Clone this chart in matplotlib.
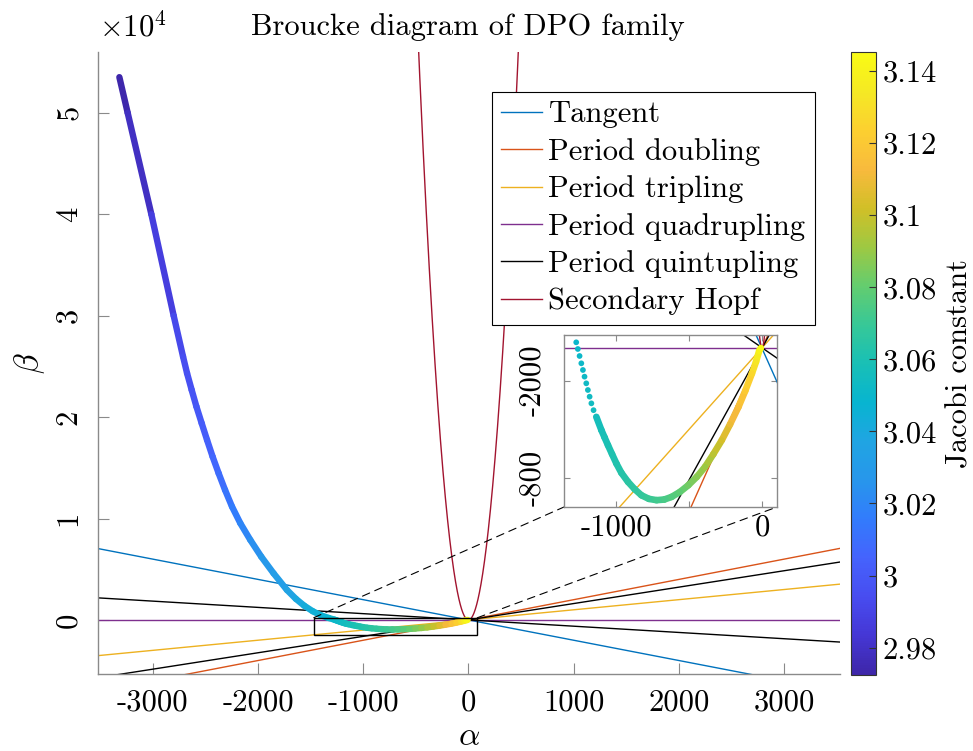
import numpy as np
import matplotlib
matplotlib.use('Agg')
import matplotlib.pyplot as plt
from matplotlib.collections import LineCollection
from matplotlib.colors import LinearSegmentedColormap, Normalize
from matplotlib.patches import Rectangle, ConnectionPatch
from matplotlib.lines import Line2D

plt.rcParams['font.family'] = 'serif'
plt.rcParams['font.serif'] = ['cmr10', 'DejaVu Serif']
plt.rcParams['mathtext.fontset'] = 'cm'
plt.rcParams['axes.unicode_minus'] = False
plt.rcParams['axes.formatter.use_mathtext'] = True

# ---------------- data ----------------
family_alpha = [-3317, -3238, -3013, -2801, -2712, -2674, -2630, -2585, -2535, -2484,
                -2431, -2374, -2313, -2247, -2168, -2073, -1969, -1852, -1725, -1640,
                -1560, -1480, -1400, -1330,
                -1276, -1265, -1253, -1241, -1230, -1219, -1207, -1196, -1184, -1172,
                -1157, -1138, -1103, -1081, -1058, -1030, -1000, -966, -920, -874,
                -828, -777, -724, -671, -621, -563, -506, -448, -391, -334,
                -276, -219, -161, -115, -69, -41, -19, -8]
family_beta = [53520, 50000, 40000, 30000, 25970, 24330, 22680, 21040, 19400, 17750,
               16100, 14470, 12820, 11180, 9540, 7890, 6240, 4600, 2960, 2080,
               1400, 860, 450, 200,
               35, -6, -49, -94, -135, -176, -217, -258, -299, -340,
               -382, -423, -505, -550, -597, -652, -710, -767, -823, -868,
               -905, -927, -935, -931, -915, -884, -843, -792, -730, -652,
               -566, -468, -361, -263, -156, -84, -16, 0]
jacobi = [2.9724, 2.975, 2.983, 2.991, 2.9935, 2.995, 2.997, 2.999, 3.001, 3.003,
          3.005, 3.008, 3.011, 3.014, 3.018, 3.022, 3.026, 3.030, 3.035, 3.038,
          3.041, 3.044, 3.046, 3.048,
          3.050, 3.0505, 3.051, 3.0515, 3.052, 3.0525, 3.053, 3.0535, 3.054, 3.0545,
          3.055, 3.056, 3.058, 3.059, 3.060, 3.061, 3.062, 3.0635, 3.065, 3.0665,
          3.068, 3.070, 3.072, 3.074, 3.076, 3.079, 3.083, 3.087, 3.091, 3.097,
          3.103, 3.109, 3.115, 3.120, 3.127, 3.133, 3.140, 3.1453]

line_names = ['Tangent', 'Period doubling', 'Period tripling', 'Period quadrupling',
              'Period quintupling', 'Secondary Hopf']
# straight Broucke lines: beta = slope*alpha + intercept
line_slopes = [[-2.0], [2.0], [1.0], [0.0], [-0.618, 1.618]]
line_intercepts = [[-2.0], [-2.0], [1.0], [2.0], [1.618, -0.618]]
hopf_coef = (0.25, 2.0)   # beta = 0.25*alpha^2 + 2

xticks_main = [-3000, -2000, -1000, 0, 1000, 2000, 3000]
yticks_main = [0, 10000, 20000, 30000, 40000, 50000]
yticklabels_main = ['0', '1', '2', '3', '4', '5']
cbar_ticks = [2.98, 3.0, 3.02, 3.04, 3.06, 3.08, 3.10, 3.12, 3.14]
cbar_ticklabels = ['2.98', '3', '3.02', '3.04', '3.06', '3.08', '3.1', '3.12', '3.14']
inset_xticks = [-1000, -500, 0]
inset_xticklabels = ['-1000', '', '0']
inset_yticks = [-800, -200]
inset_yticklabels = ['-800', '-2000']
zoom_box = (-1470, 85, -1480, 220)  # alpha0, alpha1, beta0, beta1

# ---------------- style ----------------
line_colors = ['#0072BD', '#D95319', '#EDB120', '#7E2F8E', '#000000', '#A2142F']
parula_pts = [
    (0.2422, 0.1504, 0.6603), (0.2706, 0.2147, 0.8364), (0.2813, 0.3006, 0.9414),
    (0.2699, 0.3892, 0.9906), (0.1963, 0.4847, 0.9892), (0.1540, 0.5902, 0.9218),
    (0.1248, 0.6459, 0.8883), (0.0297, 0.7082, 0.8163), (0.0964, 0.7500, 0.7120),
    (0.2161, 0.7843, 0.5923), (0.3909, 0.8029, 0.4354), (0.6174, 0.7876, 0.2612),
    (0.8203, 0.7498, 0.1535), (0.9728, 0.7298, 0.2394), (0.9892, 0.8136, 0.1885),
    (0.9597, 0.9135, 0.1423), (0.9769, 0.9839, 0.0805)]
parula = LinearSegmentedColormap.from_list('parula', parula_pts, N=256)
cmin, cmax = 2.9724, 3.1453
norm = Normalize(cmin, cmax)
axis_grey = '#8a8a8a'
FS = 22

W, H = 973, 751
fig = plt.figure(figsize=(W / 100, H / 100), dpi=100)


def fx(px):
    return px / W


def fy(py):
    return 1 - py / H


ax = fig.add_axes([fx(98), fy(674), fx(840 - 98), (674 - 52) / H])
xlim = (-3520, 3530)
ylim = (-5330, 56000)


def draw_lines(a, xl, lw=1.0):
    xs = np.array(xl)
    for k in range(5):
        for m, c in zip(line_slopes[k], line_intercepts[k]):
            a.plot(xs, m * xs + c, color=line_colors[k], lw=lw, zorder=2)
    xa = np.linspace(-500, 500, 801)
    a.plot(xa, hopf_coef[0] * xa ** 2 + hopf_coef[1], color=line_colors[5], lw=lw, zorder=2)


def family_segments(start=0):
    pts = np.column_stack([family_alpha, family_beta]).astype(float)[start:]
    segs = np.stack([pts[:-1], pts[1:]], axis=1)
    jv = np.array(jacobi)[start:]
    mids = 0.5 * (jv[:-1] + jv[1:])
    return segs, mids


draw_lines(ax, [xlim[0] - 100, xlim[1] + 100])
segs, mids = family_segments()
lc = LineCollection(segs, cmap=parula, norm=norm, linewidths=4.6, capstyle='round',
                    joinstyle='round', zorder=3)
lc.set_array(mids)
ax.add_collection(lc)

a0, a1, b0, b1 = zoom_box
ax.add_patch(Rectangle((a0, b0), a1 - a0, b1 - b0, fill=False, edgecolor='k', lw=1.0, zorder=4))

ax.set_xlim(*xlim)
ax.set_ylim(*ylim)
ax.set_xticks(xticks_main)
ax.set_xticklabels([str(v) for v in xticks_main])
ax.set_yticks(yticks_main)
ax.set_yticklabels(yticklabels_main, rotation=90, va='center')
for s in ['top', 'right']:
    ax.spines[s].set_visible(False)
for s in ['left', 'bottom']:
    ax.spines[s].set_color(axis_grey)
    ax.spines[s].set_linewidth(1.0)
ax.tick_params(direction='in', length=8, width=0.8, color=axis_grey, labelsize=FS)
ax.tick_params(axis='x', pad=11)
ax.tick_params(axis='y', pad=11)
ax.set_xlabel(r'$\alpha$', fontsize=FS + 2, labelpad=4)
ax.set_ylabel(r'$\beta$', fontsize=FS + 2, labelpad=6)

fig.text(fx(468), fy(27), 'Broucke diagram of DPO family', ha='center', va='center', fontsize=FS)
fig.text(fx(99), fy(27), r'$\times10^4$', ha='left', va='center', fontsize=FS)

handles = [Line2D([0], [0], color=c, lw=1.0) for c in line_colors]
leg = ax.legend(handles, line_names, loc='upper right', bbox_to_anchor=(0.966, 0.936),
                fontsize=FS, frameon=True, fancybox=False, edgecolor='k', framealpha=1,
                handlelength=1.35, handletextpad=0.2, labelspacing=0.31, borderpad=0.3,
                borderaxespad=0)
leg.get_frame().set_linewidth(0.8)
leg.set_zorder(6)

# ---------------- inset ----------------
iax = fig.add_axes([fx(564), fy(507), fx(777 - 564), (507 - 335) / H])
ixl = (-1360, 103)
iyl = (-977, 80)
draw_lines(iax, [ixl[0] - 50, ixl[1] + 50])
first_merged = int(np.argmax(np.array(family_alpha) >= -1140))
segs2, mids2 = family_segments(first_merged)
lc2 = LineCollection(segs2, cmap=parula, norm=norm, linewidths=4.8,
                     capstyle='round', joinstyle='round', zorder=3)
lc2.set_array(mids2)
iax.add_collection(lc2)
iax.scatter(family_alpha, family_beta, c=jacobi, cmap=parula, norm=norm, s=17,
            edgecolors='none', zorder=3)
iax.set_xlim(*ixl)
iax.set_ylim(*iyl)
iax.set_xticks(inset_xticks)
iax.set_xticklabels(inset_xticklabels)
iax.set_yticks(inset_yticks)
iax.set_yticklabels(inset_yticklabels, rotation=90, va='center')
for s in iax.spines.values():
    s.set_color(axis_grey)
    s.set_linewidth(1.0)
iax.tick_params(direction='in', length=4, width=0.8, color=axis_grey, labelsize=FS,
                top=True, right=True)
iax.tick_params(axis='x', pad=5)
iax.tick_params(axis='y', pad=13)
iax.set_zorder(7)

for xa, xb in [(a0, 0.0), (a1, 1.0)]:
    cp = ConnectionPatch(xyA=(xa, b1), coordsA=ax.transData, xyB=(xb, 0.0), coordsB=iax.transAxes,
                         color='k', lw=0.8, linestyle=(0, (7, 5)), zorder=5)
    fig.add_artist(cp)

# ---------------- colorbar ----------------
cax = fig.add_axes([fx(851), fy(675), fx(876 - 851), (675 - 52) / H])
sm = plt.cm.ScalarMappable(cmap=parula, norm=norm)
cb = fig.colorbar(sm, cax=cax)
cb.set_ticks(cbar_ticks)
cb.set_ticklabels(cbar_ticklabels)
cb.outline.set_edgecolor('#333333')
cb.outline.set_linewidth(0.8)
cax.tick_params(direction='in', length=5, width=0.8, color='#333333', labelsize=FS, pad=5)
cb.set_label('Jacobi constant', fontsize=FS, labelpad=6)

fig.savefig('out.png', dpi=100)
